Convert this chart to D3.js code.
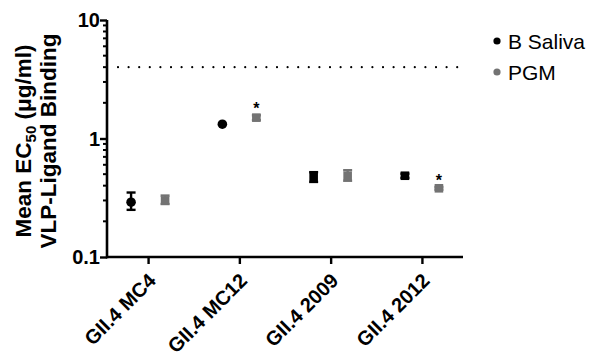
<!DOCTYPE html>
<html><head><meta charset="utf-8">
<script src="https://cdn.jsdelivr.net/npm/d3@7"></script>
<style>body{margin:0;background:#fff}svg{display:block}</style>
</head><body><svg id="c" width="590" height="363" font-family="Liberation Sans, Arial, sans-serif"></svg>
<script>
const categories = ["GII.4 MC4", "GII.4 MC12", "GII.4 2009", "GII.4 2012"];
const seriesNames = ["B Saliva", "PGM"];
const salivaMean = [0.29, 1.32, 0.475, 0.485];
const salivaLow  = [0.25, 1.32, 0.43, 0.465];
const salivaHigh = [0.35, 1.32, 0.52, 0.505];
const salivaShape = ["circle", "circle", "square", "square"];
const pgmMean = [0.30, 1.50, 0.485, 0.38];
const pgmLow  = [0.28, 1.43, 0.44, 0.37];
const pgmHigh = [0.33, 1.57, 0.54, 0.39];
const pgmStar = [false, true, false, true];
const refLine = 4;
const yTickValues = [0.1, 1, 10];
const yTickLabels = ["0.1", "1", "10"];

const svg = d3.select("#c");
const x = d3.scalePoint().domain(categories).range([107, 463]).padding(0.45);
const y = d3.scaleLog().domain([0.1, 10]).range([257, 20]);
const grey = "#737373";
const off = 17;

// minor ticks
const minor = [];
for (const d of [0.1, 1]) for (let k = 2; k <= 9; k++) minor.push(d * k);
svg.append("g").selectAll("line").data(minor).join("line")
  .attr("x1", 107).attr("x2", 103).attr("y1", d => y(d)).attr("y2", d => y(d))
  .attr("stroke", "#000").attr("stroke-width", 2);

// y axis
const ya = svg.append("g").attr("transform", "translate(107,0)")
  .call(d3.axisLeft(y).tickValues(yTickValues).tickFormat(() => "").tickSize(7).tickSizeOuter(0));
ya.select(".domain").attr("stroke-width", 2.6).attr("d", "M0," + (y(10)) + "V" + (y(0.1) + 1.3));
ya.selectAll(".tick line").attr("stroke-width", 2.4);
svg.append("g").selectAll("text").data(yTickValues).join("text")
  .attr("x", 100).attr("y", d => y(d) + 7).attr("text-anchor", "end")
  .attr("font-size", 20).attr("font-weight", "bold").text((d, i) => yTickLabels[i]);

// x axis
const xa = svg.append("g").attr("transform", "translate(0,257)")
  .call(d3.axisBottom(x).tickSize(7).tickSizeOuter(0).tickFormat(() => ""));
xa.select(".domain").attr("stroke-width", 2.6).attr("d", "M106,0H463");
xa.selectAll(".tick line").attr("stroke-width", 2.4);
svg.append("g").selectAll("text").data(categories).join("text")
  .attr("transform", d => "translate(" + (x(d) + 9) + "," + (257 + 25) + ") rotate(-45)")
  .attr("text-anchor", "end").attr("font-size", 20).attr("font-weight", "bold").text(d => d);

// reference dotted line
svg.append("line").attr("x1", 118).attr("x2", 458).attr("y1", y(refLine)).attr("y2", y(refLine))
  .attr("stroke", "#000").attr("stroke-width", 2.2).attr("stroke-linecap", "round")
  .attr("stroke-dasharray", "0,10.6");

function drawSeries(mean, low, high, dx, color, shapes) {
  const g = svg.append("g");
  categories.forEach((c, i) => {
    const cx = x(c) + dx;
    if (high[i] !== low[i]) {
      g.append("line").attr("x1", cx).attr("x2", cx).attr("y1", y(low[i])).attr("y2", y(high[i]))
        .attr("stroke", color).attr("stroke-width", 2.4);
      for (const v of [low[i], high[i]]) g.append("line").attr("x1", cx - 4.5).attr("x2", cx + 4.5)
        .attr("y1", y(v)).attr("y2", y(v)).attr("stroke", color).attr("stroke-width", 2.4);
    }
    if (shapes[i] === "circle") g.append("circle").attr("cx", cx).attr("cy", y(mean[i])).attr("r", 4.8).attr("fill", color);
    else g.append("rect").attr("x", cx - 4.3).attr("y", y(mean[i]) - 4.3).attr("width", 8.6).attr("height", 8.6).attr("fill", color);
  });
}
drawSeries(salivaMean, salivaLow, salivaHigh, -off, "#000", salivaShape);
drawSeries(pgmMean, pgmLow, pgmHigh, off, grey, categories.map(() => "square"));

// stars
svg.append("g").selectAll("text").data(categories.filter((c, i) => pgmStar[i])).join("text")
  .attr("x", c => x(c) + off).attr("y", c => y(pgmHigh[categories.indexOf(c)]) - 1)
  .attr("text-anchor", "middle").attr("font-size", 16).attr("font-weight", "bold").text("*");

// legend
const leg = svg.append("g");
seriesNames.forEach((n, i) => {
  const ly = 41 + i * 31;
  leg.append("circle").attr("cx", 497).attr("cy", ly).attr("r", 3.6).attr("fill", i === 0 ? "#000" : grey);
  leg.append("text").attr("x", 508).attr("y", ly + 7.5).attr("font-size", 21).text(n);
});

// y label
const yl = svg.append("g").attr("transform", "translate(0,141) rotate(-90)")
  .append("text").attr("text-anchor", "middle").attr("font-size", 22.5).attr("font-weight", "bold");
const t1 = yl.append("tspan").attr("x", 0).attr("y", 31);
t1.append("tspan").text("Mean EC");
t1.append("tspan").attr("font-size", 15).attr("dy", 5).text("50");
t1.append("tspan").attr("dy", -5).text(" (\u03bcg/ml)");
yl.append("tspan").attr("x", 0).attr("y", 56).text("VLP-Ligand Binding");
</script></body></html>
